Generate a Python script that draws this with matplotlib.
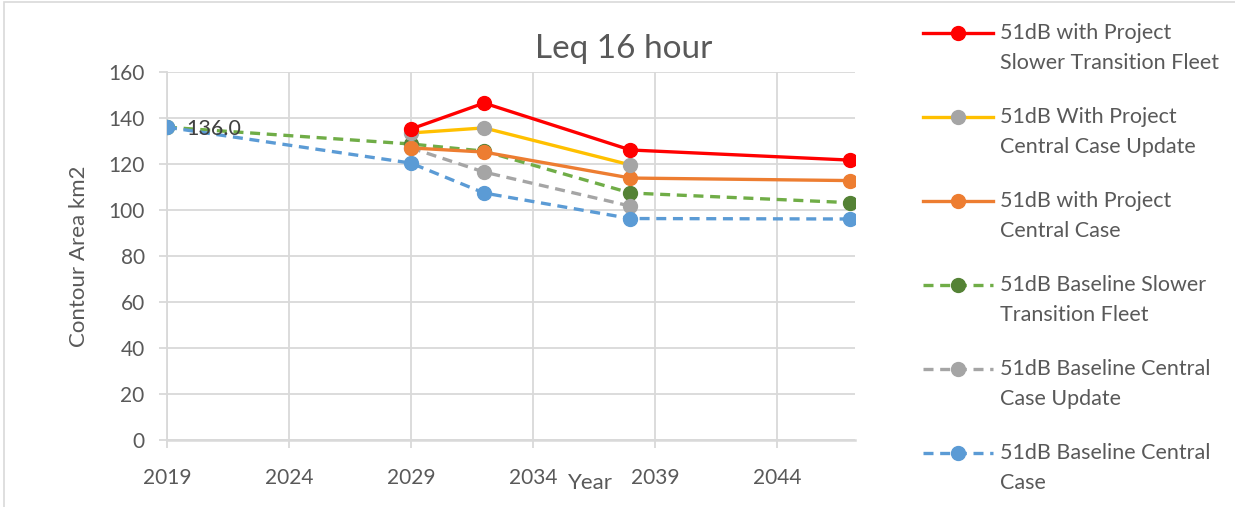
import matplotlib
matplotlib.use('Agg')
import matplotlib.pyplot as plt
from matplotlib.patches import Rectangle

plt.rcParams['font.family'] = ['Lato', 'DejaVu Sans']

# data
years_full = [2019, 2029, 2032, 2038, 2047]
years_mid = [2029, 2032, 2038]
years_proj = [2029, 2032, 2038, 2047]

red_vals = [135.2, 146.5, 126.1, 121.7]          # with project slower transition fleet
yellow_vals = [133.5, 135.7, 119.6]              # with project central case update
orange_vals = [127.0, 125.2, 113.9, 112.8]       # with project central case
green_vals = [136.0, 128.7, 125.6, 107.4, 103.2] # baseline slower transition fleet
grey_vals = [127.0, 116.5, 101.7]                # baseline central case update
blue_vals = [136.0, 120.4, 107.4, 96.3, 96.1]    # baseline central case

labels = ['51dB with Project\nSlower Transition Fleet',
          '51dB With Project\nCentral Case Update',
          '51dB with Project\nCentral Case',
          '51dB Baseline Slower\nTransition Fleet',
          '51dB Baseline Central\nCase Update',
          '51dB Baseline Central\nCase']

dash = (0, (3, 2))
series = [
    (years_proj, red_vals, '#FF0000', '#FF0000', '-'),
    (years_mid, yellow_vals, '#FFC000', '#A5A5A5', '-'),
    (years_proj, orange_vals, '#ED7D31', '#ED7D31', '-'),
    (years_full, green_vals, '#70AD47', '#548235', dash),
    (years_mid, grey_vals, '#A5A5A5', '#A5A5A5', dash),
    (years_full, blue_vals, '#5B9BD5', '#5B9BD5', dash),
]

txt = '#595959'
grid_c = '#D9D9D9'
lw = 2.4

fig = plt.figure(figsize=(12.35, 5.07), dpi=100)
fig.patches.append(Rectangle((0.003, -0.01), 1.1, 1.006, transform=fig.transFigure,
                             fill=False, edgecolor='#D9D9D9', lw=1.2))

ax = fig.add_axes([0.1352, 0.132, 0.557, 0.726])

# draw order: baselines under the project lines
order = [3, 4, 5, 2, 1, 0]
for i in order:
    xs, ys, lc, mc, ls = series[i]
    ax.plot(xs, ys, color=lc, ls=ls, lw=lw, marker='o', ms=10,
            markerfacecolor=mc, markeredgecolor=mc, zorder=3 + (i < 3))

ax.annotate('136.0', (years_full[0], blue_vals[0]), xytext=(14, -1),
            textcoords='offset points', ha='left', va='center',
            fontsize=15.5, color='#404040', zorder=6)

ax.set_xlim(2019, 2047.2)
ax.set_ylim(0, 160)
ax.set_xticks(range(2019, 2045, 5))
ax.set_yticks(range(0, 161, 20))
ax.grid(True, color=grid_c, lw=1.3)
ax.set_axisbelow(True)
for s in ['top', 'right']:
    ax.spines[s].set_visible(False)
ax.spines['left'].set_color(grid_c)
ax.spines['left'].set_linewidth(1.3)
ax.spines['bottom'].set_color(grid_c)
ax.spines['bottom'].set_linewidth(1.8)
ax.tick_params(axis='both', colors=grid_c, labelcolor=txt, labelsize=15,
               length=6, width=1.3)
ax.tick_params(axis='y', pad=10)
ax.tick_params(axis='x', pad=14)

fig.suptitle('Leq 16 hour', fontsize=24, color=txt, x=0.505, y=0.903, va='center')
ax.set_ylabel('Contour Area km2', fontsize=16, color=txt, labelpad=14)
ax.set_xlabel('Year', fontsize=16, color=txt)
ax.xaxis.set_label_coords(0.615, -0.09)

# legend drawn by hand so the handle sits on the first text line
lax = fig.add_axes([0.74, 0.0, 0.26, 1.0])
lax.set_xlim(0, 1)
lax.set_ylim(0, 1)
lax.axis('off')
top = 0.935
step = 0.1657
line_gap = 0.059
for i, (xs, ys, lc, mc, ls) in enumerate(series):
    y = top - i * step
    lax.plot([0.028, 0.246], [y, y], color=lc, ls=ls, lw=lw)
    lax.plot([0.137], [y], marker='o', ms=10, color=mc)
    first, second = labels[i].split('\n')
    lax.text(0.267, y, first, ha='left', va='center', fontsize=15.5, color=txt)
    lax.text(0.267, y - line_gap, second, ha='left', va='center', fontsize=15.5, color=txt)

fig.savefig('out.png', dpi=100)
